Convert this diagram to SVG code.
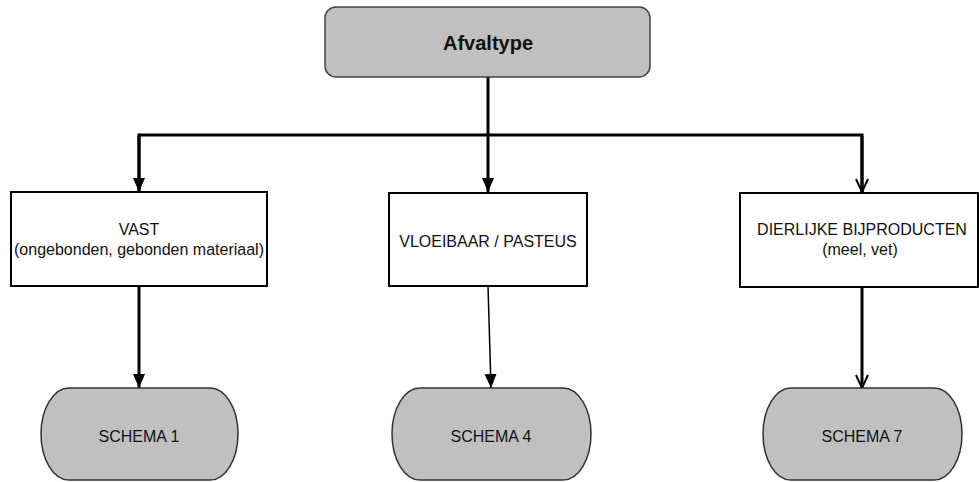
<svg xmlns="http://www.w3.org/2000/svg" width="979" height="482" viewBox="0 0 979 482">
<style>
.t{font-family:"Liberation Sans",Arial,sans-serif;font-size:16px;fill:#111;text-anchor:middle}
.b{font-weight:bold;font-size:20px}
.box{fill:#fff;stroke:#000;stroke-width:2}
.term{fill:#c0c0c0;stroke:#333;stroke-width:1.5}
.c{fill:none;stroke:#000;stroke-width:3}
.thin{stroke-width:1.5}
</style>
<defs>
<marker id="fa" markerUnits="userSpaceOnUse" markerWidth="16" markerHeight="16" viewBox="0 0 16 16" refX="14" refY="8" orient="auto">
<path d="M0,2 L14,8 L0,14 Z" fill="#000"/>
</marker>
<marker id="oa" markerUnits="userSpaceOnUse" markerWidth="16" markerHeight="16" viewBox="0 0 16 16" refX="14" refY="8" orient="auto">
<path d="M1,2 L14,8 L1,14" fill="none" stroke="#000" stroke-width="2"/>
</marker>
</defs>
<g id="connectors">
<line class="c" x1="488" y1="77" x2="488" y2="192" marker-end="url(#fa)"/>
<polyline class="c" points="139,192 139,135 862,135 862,192"/>
<line class="c" x1="139" y1="136" x2="139" y2="192" marker-end="url(#fa)"/>
<line class="c" x1="862" y1="136" x2="862" y2="192" marker-end="url(#oa)"/>
<line class="c" x1="139" y1="286" x2="139" y2="388" marker-end="url(#fa)"/>
<line class="c thin" x1="488" y1="286" x2="491" y2="388" marker-end="url(#fa)"/>
<line class="c" x1="862" y1="287" x2="862" y2="388" marker-end="url(#oa)"/>
</g>
<g id="afvaltype">
<rect x="325" y="7" width="325" height="70" rx="11" ry="11" fill="#c0c0c0" stroke="#444" stroke-width="1.5"/>
<text class="t b" x="488" y="50">Afvaltype</text>
</g>
<g id="vast">
<rect class="box" x="11" y="192" width="256" height="94"/>
<text class="t" x="139" y="235">VAST</text>
<text class="t" x="139" y="255">(ongebonden, gebonden materiaal)</text>
</g>
<g id="vloeibaar">
<rect class="box" x="389" y="193" width="198" height="93"/>
<text class="t" x="488" y="247">VLOEIBAAR / PASTEUS</text>
</g>
<g id="dierlijk">
<rect class="box" x="740" y="193" width="238" height="94"/>
<text class="t" x="862" y="235">DIERLIJKE BIJPRODUCTEN</text>
<text class="t" x="860" y="255">(meel, vet)</text>
</g>
<g id="schema1">
<rect class="term" x="41" y="388" width="197" height="92" rx="28" ry="46"/>
<text class="t" x="139" y="442">SCHEMA 1</text>
</g>
<g id="schema4">
<rect class="term" x="392" y="388" width="199" height="92" rx="28" ry="46"/>
<text class="t" x="491" y="442">SCHEMA 4</text>
</g>
<g id="schema7">
<rect class="term" x="763" y="388" width="199" height="92" rx="28" ry="46"/>
<text class="t" x="862" y="442">SCHEMA 7</text>
</g>
</svg>
